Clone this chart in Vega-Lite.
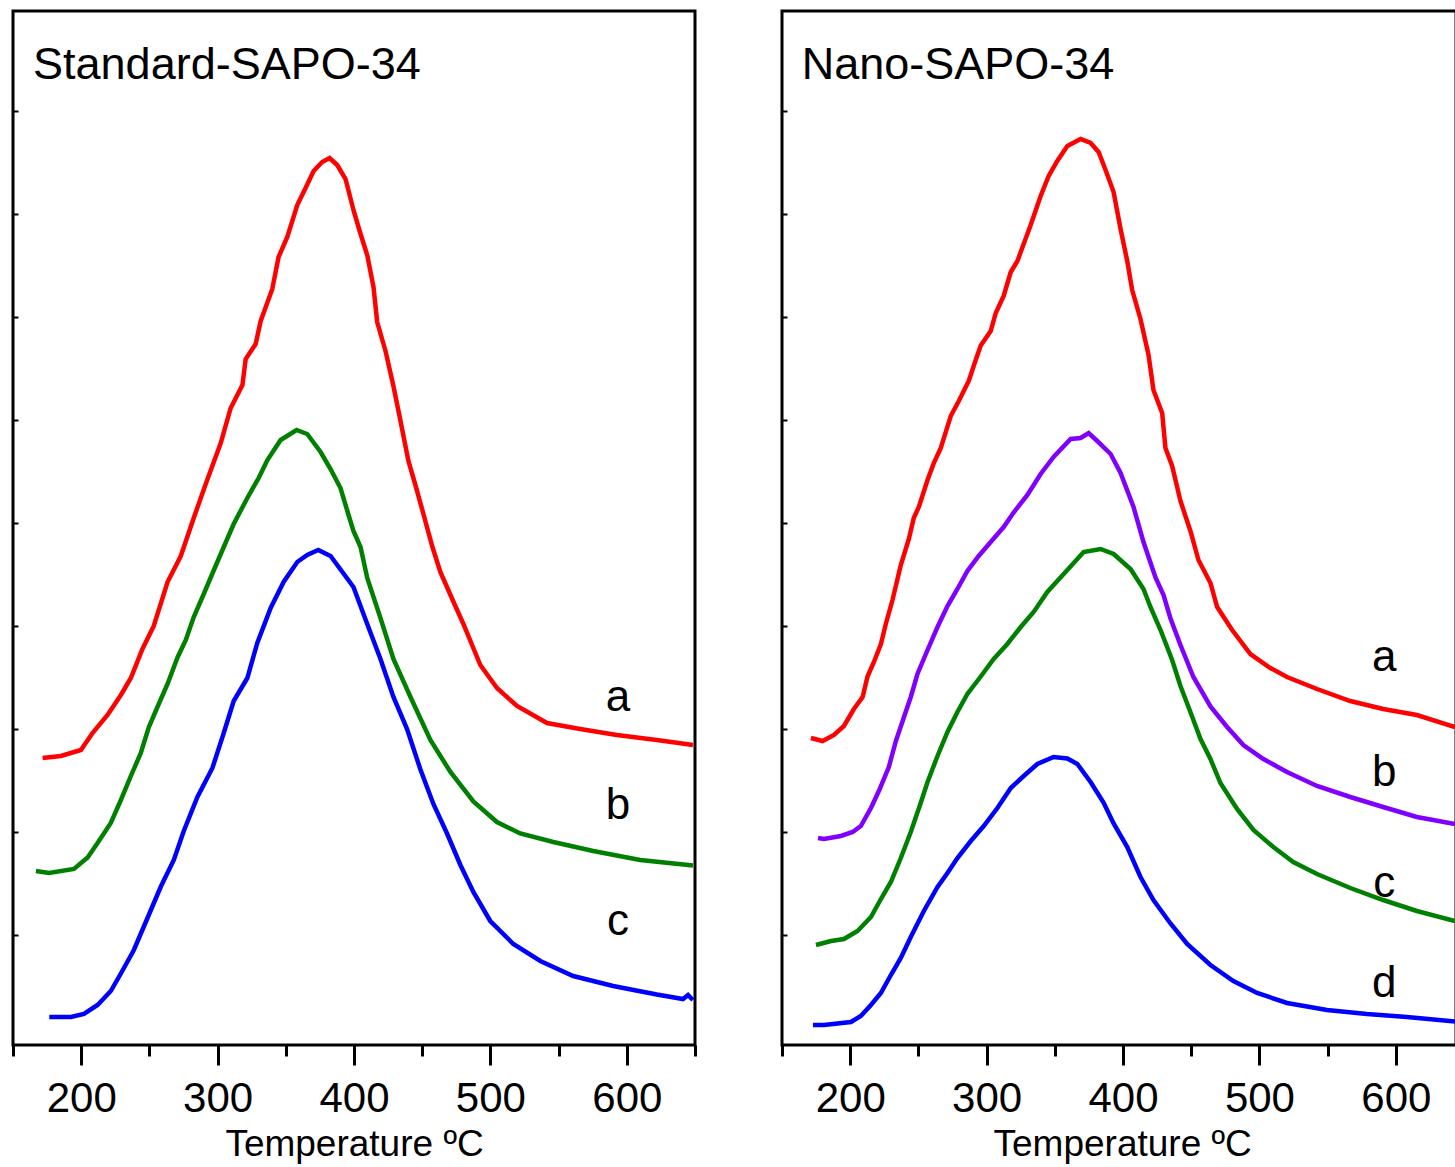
{
  "$schema": "https://vega.github.io/schema/vega-lite/v6.json",
  "background": "white",
  "padding": {"left": 10, "top": 9, "right": 0, "bottom": 0},
  "spacing": 75,
  "config": {
    "view": {"stroke": "black", "strokeWidth": 3},
    "font": "Liberation Sans"
  },
  "datasets": {
    "tpd": [
      {"panel":"S","curve":"a","temp":171.7,"signal":28.7},{"panel":"S","curve":"a","temp":185.1,"signal":28.9},{"panel":"S","curve":"a","temp":199.8,"signal":29.5},{"panel":"S","curve":"a","temp":208.3,"signal":31.2},{"panel":"S","curve":"a","temp":219.3,"signal":33.0},{"panel":"S","curve":"a","temp":229.1,"signal":35.0},{"panel":"S","curve":"a","temp":236.4,"signal":36.7},{"panel":"S","curve":"a","temp":244.9,"signal":39.6},{"panel":"S","curve":"a","temp":253.2,"signal":41.9},{"panel":"S","curve":"a","temp":263.3,"signal":46.3},{"panel":"S","curve":"a","temp":273.0,"signal":48.9},{"panel":"S","curve":"a","temp":282.5,"signal":52.7},{"panel":"S","curve":"a","temp":291.3,"signal":56.1},{"panel":"S","curve":"a","temp":302.3,"signal":60.2},{"panel":"S","curve":"a","temp":309.6,"signal":63.7},{"panel":"S","curve":"a","temp":318.2,"signal":66.0},{"panel":"S","curve":"a","temp":320.6,"signal":68.6},{"panel":"S","curve":"a","temp":327.9,"signal":70.1},{"panel":"S","curve":"a","temp":331.6,"signal":72.4},{"panel":"S","curve":"a","temp":340.1,"signal":75.6},{"panel":"S","curve":"a","temp":344.7,"signal":78.8},{"panel":"S","curve":"a","temp":351.1,"signal":80.8},{"panel":"S","curve":"a","temp":358.4,"signal":84.0},{"panel":"S","curve":"a","temp":364.5,"signal":85.7},{"panel":"S","curve":"a","temp":370.4,"signal":87.4},{"panel":"S","curve":"a","temp":376.7,"signal":88.3},{"panel":"S","curve":"a","temp":382.1,"signal":88.7},{"panel":"S","curve":"a","temp":387.7,"signal":88.0},{"panel":"S","curve":"a","temp":393.8,"signal":86.6},{"panel":"S","curve":"a","temp":399.6,"signal":83.5},{"panel":"S","curve":"a","temp":404.8,"signal":81.1},{"panel":"S","curve":"a","temp":409.7,"signal":79.0},{"panel":"S","curve":"a","temp":414.3,"signal":75.8},{"panel":"S","curve":"a","temp":417.0,"signal":72.3},{"panel":"S","curve":"a","temp":423.1,"signal":69.4},{"panel":"S","curve":"a","temp":428.9,"signal":65.9},{"panel":"S","curve":"a","temp":434.1,"signal":62.4},{"panel":"S","curve":"a","temp":439.9,"signal":58.4},{"panel":"S","curve":"a","temp":445.0,"signal":56.0},{"panel":"S","curve":"a","temp":450.9,"signal":53.1},{"panel":"S","curve":"a","temp":457.3,"signal":49.9},{"panel":"S","curve":"a","temp":463.3,"signal":47.3},{"panel":"S","curve":"a","temp":470.7,"signal":45.0},{"panel":"S","curve":"a","temp":480.2,"signal":42.1},{"panel":"S","curve":"a","temp":492.6,"signal":38.0},{"panel":"S","curve":"a","temp":504.8,"signal":35.7},{"panel":"S","curve":"a","temp":519.5,"signal":33.9},{"panel":"S","curve":"a","temp":541.5,"signal":32.2},{"panel":"S","curve":"a","temp":565.8,"signal":31.6},{"panel":"S","curve":"a","temp":592.7,"signal":31.0},{"panel":"S","curve":"a","temp":622.0,"signal":30.5},{"panel":"S","curve":"a","temp":648.5,"signal":30.0},
      {"panel":"S","curve":"b","temp":166.8,"signal":17.4},{"panel":"S","curve":"b","temp":176.4,"signal":17.2},{"panel":"S","curve":"b","temp":194.7,"signal":17.6},{"panel":"S","curve":"b","temp":204.7,"signal":18.75},{"panel":"S","curve":"b","temp":212.0,"signal":20.2},{"panel":"S","curve":"b","temp":221.7,"signal":22.2},{"panel":"S","curve":"b","temp":229.1,"signal":24.5},{"panel":"S","curve":"b","temp":236.4,"signal":26.9},{"panel":"S","curve":"b","temp":243.7,"signal":29.2},{"panel":"S","curve":"b","temp":249.6,"signal":31.8},{"panel":"S","curve":"b","temp":255.9,"signal":33.8},{"panel":"S","curve":"b","temp":263.3,"signal":36.1},{"panel":"S","curve":"b","temp":270.6,"signal":38.75},{"panel":"S","curve":"b","temp":276.7,"signal":40.5},{"panel":"S","curve":"b","temp":282.5,"signal":42.8},{"panel":"S","curve":"b","temp":288.9,"signal":44.8},{"panel":"S","curve":"b","temp":296.2,"signal":47.15},{"panel":"S","curve":"b","temp":304.5,"signal":49.8},{"panel":"S","curve":"b","temp":311.8,"signal":52.1},{"panel":"S","curve":"b","temp":321.8,"signal":54.7},{"panel":"S","curve":"b","temp":330.1,"signal":56.7},{"panel":"S","curve":"b","temp":336.5,"signal":58.5},{"panel":"S","curve":"b","temp":346.2,"signal":60.5},{"panel":"S","curve":"b","temp":357.9,"signal":61.5},{"panel":"S","curve":"b","temp":365.7,"signal":61.1},{"panel":"S","curve":"b","temp":375.5,"signal":59.3},{"panel":"S","curve":"b","temp":382.8,"signal":57.6},{"panel":"S","curve":"b","temp":390.1,"signal":55.7},{"panel":"S","curve":"b","temp":396.0,"signal":53.0},{"panel":"S","curve":"b","temp":399.6,"signal":51.4},{"panel":"S","curve":"b","temp":404.8,"signal":49.8},{"panel":"S","curve":"b","temp":409.7,"signal":46.7},{"panel":"S","curve":"b","temp":419.4,"signal":42.7},{"panel":"S","curve":"b","temp":428.9,"signal":38.6},{"panel":"S","curve":"b","temp":441.4,"signal":34.8},{"panel":"S","curve":"b","temp":456.0,"signal":30.5},{"panel":"S","curve":"b","temp":470.7,"signal":27.3},{"panel":"S","curve":"b","temp":487.5,"signal":24.35},{"panel":"S","curve":"b","temp":504.8,"signal":22.3},{"panel":"S","curve":"b","temp":521.9,"signal":21.15},{"panel":"S","curve":"b","temp":546.1,"signal":20.3},{"panel":"S","curve":"b","temp":575.4,"signal":19.4},{"panel":"S","curve":"b","temp":609.8,"signal":18.5},{"panel":"S","curve":"b","temp":648.5,"signal":17.95},
      {"panel":"S","curve":"c","temp":176.6,"signal":2.8},{"panel":"S","curve":"c","temp":192.5,"signal":2.8},{"panel":"S","curve":"c","temp":202.0,"signal":3.1},{"panel":"S","curve":"c","temp":212.0,"signal":4.0},{"panel":"S","curve":"c","temp":221.7,"signal":5.4},{"panel":"S","curve":"c","temp":229.1,"signal":7.15},{"panel":"S","curve":"c","temp":238.6,"signal":9.5},{"panel":"S","curve":"c","temp":248.6,"signal":12.7},{"panel":"S","curve":"c","temp":258.4,"signal":15.85},{"panel":"S","curve":"c","temp":267.9,"signal":18.5},{"panel":"S","curve":"c","temp":275.2,"signal":21.4},{"panel":"S","curve":"c","temp":285.2,"signal":24.8},{"panel":"S","curve":"c","temp":296.2,"signal":27.7},{"panel":"S","curve":"c","temp":304.5,"signal":31.2},{"panel":"S","curve":"c","temp":311.8,"signal":34.4},{"panel":"S","curve":"c","temp":321.8,"signal":36.7},{"panel":"S","curve":"c","temp":329.1,"signal":40.2},{"panel":"S","curve":"c","temp":338.9,"signal":43.7},{"panel":"S","curve":"c","temp":348.4,"signal":46.3},{"panel":"S","curve":"c","temp":358.4,"signal":48.3},{"panel":"S","curve":"c","temp":365.7,"signal":49.0},{"panel":"S","curve":"c","temp":373.8,"signal":49.5},{"panel":"S","curve":"c","temp":382.8,"signal":48.9},{"panel":"S","curve":"c","temp":392.3,"signal":47.15},{"panel":"S","curve":"c","temp":399.6,"signal":45.8},{"panel":"S","curve":"c","temp":409.7,"signal":42.1},{"panel":"S","curve":"c","temp":419.4,"signal":38.6},{"panel":"S","curve":"c","temp":428.9,"signal":34.8},{"panel":"S","curve":"c","temp":438.9,"signal":31.6},{"panel":"S","curve":"c","temp":448.7,"signal":27.55},{"panel":"S","curve":"c","temp":458.2,"signal":24.1},{"panel":"S","curve":"c","temp":468.2,"signal":21.15},{"panel":"S","curve":"c","temp":478.0,"signal":18.0},{"panel":"S","curve":"c","temp":487.5,"signal":15.3},{"panel":"S","curve":"c","temp":499.9,"signal":12.4},{"panel":"S","curve":"c","temp":516.8,"signal":10.1},{"panel":"S","curve":"c","temp":536.6,"signal":8.4},{"panel":"S","curve":"c","temp":560.7,"signal":6.9},{"panel":"S","curve":"c","temp":590.0,"signal":5.9},{"panel":"S","curve":"c","temp":622.0,"signal":5.05},{"panel":"S","curve":"c","temp":641.2,"signal":4.6},{"panel":"S","curve":"c","temp":644.9,"signal":5.0},{"panel":"S","curve":"c","temp":648.5,"signal":4.5},
      {"panel":"N","curve":"a","temp":171.2,"signal":30.7},{"panel":"N","curve":"a","temp":179.8,"signal":30.4},{"panel":"N","curve":"a","temp":188.1,"signal":31.0},{"panel":"N","curve":"a","temp":195.4,"signal":31.9},{"panel":"N","curve":"a","temp":202.7,"signal":33.6},{"panel":"N","curve":"a","temp":209.1,"signal":34.8},{"panel":"N","curve":"a","temp":212.7,"signal":36.85},{"panel":"N","curve":"a","temp":217.4,"signal":38.3},{"panel":"N","curve":"a","temp":222.5,"signal":40.1},{"panel":"N","curve":"a","temp":226.1,"signal":42.1},{"panel":"N","curve":"a","temp":231.0,"signal":44.5},{"panel":"N","curve":"a","temp":237.1,"signal":48.0},{"panel":"N","curve":"a","temp":243.0,"signal":50.6},{"panel":"N","curve":"a","temp":246.6,"signal":52.7},{"panel":"N","curve":"a","temp":250.3,"signal":53.8},{"panel":"N","curve":"a","temp":256.7,"signal":56.5},{"panel":"N","curve":"a","temp":261.3,"signal":58.2},{"panel":"N","curve":"a","temp":266.4,"signal":59.7},{"panel":"N","curve":"a","temp":273.7,"signal":62.9},{"panel":"N","curve":"a","temp":279.6,"signal":64.4},{"panel":"N","curve":"a","temp":286.9,"signal":66.4},{"panel":"N","curve":"a","temp":292.0,"signal":68.5},{"panel":"N","curve":"a","temp":295.7,"signal":69.95},{"panel":"N","curve":"a","temp":303.0,"signal":71.4},{"panel":"N","curve":"a","temp":306.7,"signal":73.2},{"panel":"N","curve":"a","temp":312.5,"signal":74.9},{"panel":"N","curve":"a","temp":317.7,"signal":77.3},{"panel":"N","curve":"a","temp":322.6,"signal":78.4},{"panel":"N","curve":"a","temp":325.0,"signal":79.3},{"panel":"N","curve":"a","temp":332.3,"signal":82.0},{"panel":"N","curve":"a","temp":339.6,"signal":84.9},{"panel":"N","curve":"a","temp":345.5,"signal":86.9},{"panel":"N","curve":"a","temp":351.8,"signal":88.4},{"panel":"N","curve":"a","temp":359.2,"signal":89.9},{"panel":"N","curve":"a","temp":368.9,"signal":90.6},{"panel":"N","curve":"a","temp":376.2,"signal":90.2},{"panel":"N","curve":"a","temp":382.1,"signal":89.3},{"panel":"N","curve":"a","temp":387.2,"signal":87.5},{"panel":"N","curve":"a","temp":393.1,"signal":85.3},{"panel":"N","curve":"a","temp":398.2,"signal":81.6},{"panel":"N","curve":"a","temp":403.1,"signal":78.4},{"panel":"N","curve":"a","temp":406.7,"signal":75.5},{"panel":"N","curve":"a","temp":412.8,"signal":72.6},{"panel":"N","curve":"a","temp":418.7,"signal":69.0},{"panel":"N","curve":"a","temp":422.3,"signal":65.5},{"panel":"N","curve":"a","temp":428.7,"signal":63.2},{"panel":"N","curve":"a","temp":431.1,"signal":59.7},{"panel":"N","curve":"a","temp":436.0,"signal":57.9},{"panel":"N","curve":"a","temp":442.1,"signal":54.4},{"panel":"N","curve":"a","temp":449.4,"signal":51.4},{"panel":"N","curve":"a","temp":455.3,"signal":48.5},{"panel":"N","curve":"a","temp":464.1,"signal":46.2},{"panel":"N","curve":"a","temp":469.0,"signal":43.8},{"panel":"N","curve":"a","temp":480.0,"signal":41.5},{"panel":"N","curve":"a","temp":493.4,"signal":39.1},{"panel":"N","curve":"a","temp":508.0,"signal":37.7},{"panel":"N","curve":"a","temp":520.2,"signal":36.8},{"panel":"N","curve":"a","temp":542.2,"signal":35.6},{"panel":"N","curve":"a","temp":566.6,"signal":34.4},{"panel":"N","curve":"a","temp":590.7,"signal":33.6},{"panel":"N","curve":"a","temp":615.4,"signal":33.0},{"panel":"N","curve":"a","temp":643.4,"signal":31.8},
      {"panel":"N","curve":"b","temp":176.4,"signal":20.7},{"panel":"N","curve":"b","temp":180.7,"signal":20.6},{"panel":"N","curve":"b","temp":193.2,"signal":20.9},{"panel":"N","curve":"b","temp":201.8,"signal":21.3},{"panel":"N","curve":"b","temp":207.8,"signal":21.9},{"panel":"N","curve":"b","temp":215.2,"signal":23.7},{"panel":"N","curve":"b","temp":221.0,"signal":25.4},{"panel":"N","curve":"b","temp":228.3,"signal":27.8},{"panel":"N","curve":"b","temp":233.5,"signal":30.4},{"panel":"N","curve":"b","temp":239.3,"signal":32.75},{"panel":"N","curve":"b","temp":244.4,"signal":34.8},{"panel":"N","curve":"b","temp":249.3,"signal":37.1},{"panel":"N","curve":"b","temp":256.7,"signal":39.5},{"panel":"N","curve":"b","temp":264.0,"signal":41.8},{"panel":"N","curve":"b","temp":271.3,"signal":43.9},{"panel":"N","curve":"b","temp":278.6,"signal":45.6},{"panel":"N","curve":"b","temp":285.9,"signal":47.4},{"panel":"N","curve":"b","temp":294.2,"signal":48.9},{"panel":"N","curve":"b","temp":303.0,"signal":50.3},{"panel":"N","curve":"b","temp":312.5,"signal":51.8},{"panel":"N","curve":"b","temp":319.8,"signal":53.25},{"panel":"N","curve":"b","temp":329.9,"signal":55.0},{"panel":"N","curve":"b","temp":339.6,"signal":57.1},{"panel":"N","curve":"b","temp":349.1,"signal":58.8},{"panel":"N","curve":"b","temp":361.6,"signal":60.6},{"panel":"N","curve":"b","temp":368.9,"signal":60.7},{"panel":"N","curve":"b","temp":374.8,"signal":61.2},{"panel":"N","curve":"b","temp":381.1,"signal":60.4},{"panel":"N","curve":"b","temp":390.9,"signal":59.1},{"panel":"N","curve":"b","temp":398.2,"signal":57.2},{"panel":"N","curve":"b","temp":407.7,"signal":53.8},{"panel":"N","curve":"b","temp":415.0,"signal":50.3},{"panel":"N","curve":"b","temp":423.8,"signal":46.75},{"panel":"N","curve":"b","temp":429.7,"signal":45.0},{"panel":"N","curve":"b","temp":434.8,"signal":42.65},{"panel":"N","curve":"b","temp":442.1,"signal":40.0},{"panel":"N","curve":"b","temp":451.6,"signal":36.8},{"panel":"N","curve":"b","temp":464.1,"signal":33.85},{"panel":"N","curve":"b","temp":476.3,"signal":31.8},{"panel":"N","curve":"b","temp":488.2,"signal":30.0},{"panel":"N","curve":"b","temp":502.9,"signal":28.6},{"panel":"N","curve":"b","temp":520.2,"signal":27.3},{"panel":"N","curve":"b","temp":542.2,"signal":25.9},{"panel":"N","curve":"b","temp":566.6,"signal":24.8},{"panel":"N","curve":"b","temp":590.7,"signal":23.8},{"panel":"N","curve":"b","temp":615.4,"signal":22.8},{"panel":"N","curve":"b","temp":643.4,"signal":22.1},
      {"panel":"N","curve":"c","temp":174.9,"signal":10.0},{"panel":"N","curve":"c","temp":185.9,"signal":10.4},{"panel":"N","curve":"c","temp":195.4,"signal":10.6},{"panel":"N","curve":"c","temp":205.4,"signal":11.4},{"panel":"N","curve":"c","temp":215.2,"signal":12.8},{"panel":"N","curve":"c","temp":222.5,"signal":14.6},{"panel":"N","curve":"c","temp":229.8,"signal":16.3},{"panel":"N","curve":"c","temp":237.1,"signal":18.7},{"panel":"N","curve":"c","temp":244.4,"signal":21.3},{"panel":"N","curve":"c","temp":251.8,"signal":24.25},{"panel":"N","curve":"c","temp":256.7,"signal":26.3},{"panel":"N","curve":"c","temp":264.0,"signal":28.9},{"panel":"N","curve":"c","temp":271.3,"signal":31.3},{"panel":"N","curve":"c","temp":278.6,"signal":33.3},{"panel":"N","curve":"c","temp":285.9,"signal":35.1},{"panel":"N","curve":"c","temp":295.7,"signal":36.85},{"panel":"N","curve":"c","temp":305.2,"signal":38.6},{"panel":"N","curve":"c","temp":315.2,"signal":40.1},{"panel":"N","curve":"c","temp":325.0,"signal":41.8},{"panel":"N","curve":"c","temp":334.5,"signal":43.3},{"panel":"N","curve":"c","temp":344.5,"signal":45.3},{"panel":"N","curve":"c","temp":356.5,"signal":47.1},{"panel":"N","curve":"c","temp":366.5,"signal":48.6},{"panel":"N","curve":"c","temp":371.1,"signal":49.3},{"panel":"N","curve":"c","temp":383.5,"signal":49.6},{"panel":"N","curve":"c","temp":393.1,"signal":49.1},{"panel":"N","curve":"c","temp":405.5,"signal":47.6},{"panel":"N","curve":"c","temp":415.0,"signal":45.6},{"panel":"N","curve":"c","temp":420.1,"signal":43.8},{"panel":"N","curve":"c","temp":427.5,"signal":41.5},{"panel":"N","curve":"c","temp":436.0,"signal":38.5},{"panel":"N","curve":"c","temp":442.1,"signal":35.9},{"panel":"N","curve":"c","temp":449.4,"signal":33.3},{"panel":"N","curve":"c","temp":456.8,"signal":30.6},{"panel":"N","curve":"c","temp":464.1,"signal":28.6},{"panel":"N","curve":"c","temp":471.4,"signal":26.2},{"panel":"N","curve":"c","temp":483.6,"signal":23.6},{"panel":"N","curve":"c","temp":495.6,"signal":21.5},{"panel":"N","curve":"c","temp":510.2,"signal":19.8},{"panel":"N","curve":"c","temp":524.8,"signal":18.3},{"panel":"N","curve":"c","temp":542.2,"signal":17.1},{"panel":"N","curve":"c","temp":566.6,"signal":15.7},{"panel":"N","curve":"c","temp":590.7,"signal":14.5},{"panel":"N","curve":"c","temp":615.4,"signal":13.4},{"panel":"N","curve":"c","temp":643.4,"signal":12.4},
      {"panel":"N","curve":"d","temp":172.7,"signal":2.0},{"panel":"N","curve":"d","temp":180.7,"signal":2.0},{"panel":"N","curve":"d","temp":200.5,"signal":2.3},{"panel":"N","curve":"d","temp":207.8,"signal":2.9},{"panel":"N","curve":"d","temp":215.2,"signal":4.0},{"panel":"N","curve":"d","temp":222.5,"signal":5.2},{"panel":"N","curve":"d","temp":229.8,"signal":7.0},{"panel":"N","curve":"d","temp":237.1,"signal":8.7},{"panel":"N","curve":"d","temp":244.4,"signal":10.8},{"panel":"N","curve":"d","temp":254.0,"signal":13.4},{"panel":"N","curve":"d","temp":264.0,"signal":15.8},{"panel":"N","curve":"d","temp":271.3,"signal":17.2},{"panel":"N","curve":"d","temp":278.6,"signal":18.7},{"panel":"N","curve":"d","temp":288.4,"signal":20.4},{"panel":"N","curve":"d","temp":297.9,"signal":21.9},{"panel":"N","curve":"d","temp":307.9,"signal":23.7},{"panel":"N","curve":"d","temp":317.7,"signal":25.7},{"panel":"N","curve":"d","temp":327.2,"signal":26.9},{"panel":"N","curve":"d","temp":337.2,"signal":28.1},{"panel":"N","curve":"d","temp":349.1,"signal":28.8},{"panel":"N","curve":"d","temp":359.2,"signal":28.65},{"panel":"N","curve":"d","temp":366.5,"signal":28.1},{"panel":"N","curve":"d","temp":376.2,"signal":26.3},{"panel":"N","curve":"d","temp":385.7,"signal":24.25},{"panel":"N","curve":"d","temp":393.1,"signal":22.15},{"panel":"N","curve":"d","temp":403.1,"signal":19.8},{"panel":"N","curve":"d","temp":412.8,"signal":16.8},{"panel":"N","curve":"d","temp":422.3,"signal":14.5},{"panel":"N","curve":"d","temp":434.8,"signal":12.15},{"panel":"N","curve":"d","temp":447.0,"signal":10.1},{"panel":"N","curve":"d","temp":464.1,"signal":8.0},{"panel":"N","curve":"d","temp":480.9,"signal":6.4},{"panel":"N","curve":"d","temp":498.3,"signal":5.2},{"panel":"N","curve":"d","temp":520.2,"signal":4.2},{"panel":"N","curve":"d","temp":549.5,"signal":3.5},{"panel":"N","curve":"d","temp":578.8,"signal":3.1},{"panel":"N","curve":"d","temp":608.1,"signal":2.8},{"panel":"N","curve":"d","temp":643.4,"signal":2.35}
    ],
    "labels": [
      {"panel":"S","curve":"a","temp":593.6,"signal":33.4},
      {"panel":"S","curve":"b","temp":593.6,"signal":22.6},
      {"panel":"S","curve":"c","temp":593.6,"signal":11.0},
      {"panel":"N","curve":"a","temp":591.5,"signal":37.4},
      {"panel":"N","curve":"b","temp":591.5,"signal":25.9},
      {"panel":"N","curve":"c","temp":591.5,"signal":14.8},
      {"panel":"N","curve":"d","temp":591.5,"signal":4.8}
    ],
    "titles": [
      {"panel":"S","name":"Standard-SAPO-34","temp":164.7,"signal":96.6},
      {"panel":"N","name":"Nano-SAPO-34","temp":164.4,"signal":96.6}
    ]
  },
  "hconcat": [
    {
      "width": 682,
      "height": 1034,
      "layer": [
        {
          "data": {"name": "tpd"},
          "transform": [{"filter": "datum.panel === 'S'"}],
          "mark": {"type": "line", "strokeWidth": 4.5, "interpolate": "linear"},
          "encoding": {
            "x": {"field": "temp", "type": "quantitative", "scale": {"domain": [150, 650], "nice": false, "zero": false},
              "axis": {"values": [150,200,250,300,350,400,450,500,550,600,650], "domain": false, "grid": false,
                "tickSize": {"condition": {"test": "datum.value % 100 === 0", "value": 20}, "value": 11},
                "tickWidth": 3, "tickColor": "black",
                "labelExpr": "datum.value % 100 === 0 ? datum.label : ''",
                "labelFontSize": 42, "labelFont": "Liberation Sans", "labelColor": "black", "labelPadding": 13, "labelOverlap": false, "labelFlush": false,
                "title": "Temperature ºC", "titleFontSize": 37, "titleFont": "Liberation Sans", "titleFontWeight": "normal", "titleColor": "black", "titlePadding": 7}},
            "y": {"field": "signal", "type": "quantitative", "scale": {"domain": [0, 103.4], "nice": false, "zero": false},
              "axis": {"values": [11, 21.3, 31.6, 41.9, 52.2, 62.5, 72.8, 83.1, 93.4], "labels": false, "domain": false, "grid": false, "tickSize": -5, "tickWidth": 2, "tickColor": "black", "title": null}},
            "color": {"field": "curve", "type": "nominal", "scale": {"domain": ["a", "b", "c"], "range": ["#ff0000", "#008000", "#0000ff"]}, "legend": null}
          }
        },
        {
          "data": {"name": "labels"},
          "transform": [{"filter": "datum.panel === 'S'"}],
          "mark": {"type": "text", "fontSize": 44, "font": "Liberation Sans", "align": "center", "baseline": "alphabetic", "color": "black"},
          "encoding": {
            "x": {"field": "temp", "type": "quantitative"},
            "y": {"field": "signal", "type": "quantitative"},
            "text": {"field": "curve"}
          }
        },
        {
          "data": {"name": "titles"},
          "transform": [{"filter": "datum.panel === 'S'"}],
          "mark": {"type": "text", "fontSize": 45, "font": "Liberation Sans", "align": "left", "baseline": "alphabetic", "color": "black"},
          "encoding": {
            "x": {"field": "temp", "type": "quantitative"},
            "y": {"field": "signal", "type": "quantitative"},
            "text": {"field": "name"}
          }
        }
      ]
    },
    {
      "width": 674,
      "height": 1034,
      "layer": [
        {
          "data": {"name": "tpd"},
          "transform": [{"filter": "datum.panel === 'N'"}],
          "mark": {"type": "line", "strokeWidth": 4.5, "interpolate": "linear"},
          "encoding": {
            "x": {"field": "temp", "type": "quantitative", "scale": {"domain": [150, 644.1], "nice": false, "zero": false},
              "axis": {"values": [150,200,250,300,350,400,450,500,550,600], "domain": false, "grid": false,
                "tickSize": {"condition": {"test": "datum.value % 100 === 0", "value": 20}, "value": 11},
                "tickWidth": 3, "tickColor": "black",
                "labelExpr": "datum.value % 100 === 0 ? datum.label : ''",
                "labelFontSize": 42, "labelFont": "Liberation Sans", "labelColor": "black", "labelPadding": 13, "labelOverlap": false, "labelFlush": false,
                "title": "Temperature ºC", "titleFontSize": 37, "titleFont": "Liberation Sans", "titleFontWeight": "normal", "titleColor": "black", "titlePadding": 7, "titleAnchor": "start", "titleX": 211}},
            "y": {"field": "signal", "type": "quantitative", "scale": {"domain": [0, 103.4], "nice": false, "zero": false},
              "axis": {"values": [11, 21.3, 31.6, 41.9, 52.2, 62.5, 72.8, 83.1, 93.4], "labels": false, "domain": false, "grid": false, "tickSize": -5, "tickWidth": 2, "tickColor": "black", "title": null}},
            "color": {"field": "curve", "type": "nominal", "scale": {"domain": ["a", "b", "c", "d"], "range": ["#ff0000", "#8000ff", "#008000", "#0000ff"]}, "legend": null}
          }
        },
        {
          "data": {"name": "labels"},
          "transform": [{"filter": "datum.panel === 'N'"}],
          "mark": {"type": "text", "fontSize": 44, "font": "Liberation Sans", "align": "center", "baseline": "alphabetic", "color": "black"},
          "encoding": {
            "x": {"field": "temp", "type": "quantitative"},
            "y": {"field": "signal", "type": "quantitative"},
            "text": {"field": "curve"}
          }
        },
        {
          "data": {"name": "titles"},
          "transform": [{"filter": "datum.panel === 'N'"}],
          "mark": {"type": "text", "fontSize": 45, "font": "Liberation Sans", "align": "left", "baseline": "alphabetic", "color": "black"},
          "encoding": {
            "x": {"field": "temp", "type": "quantitative"},
            "y": {"field": "signal", "type": "quantitative"},
            "text": {"field": "name"}
          }
        }
      ]
    }
  ],
  "resolve": {"scale": {"color": "independent", "x": "independent", "y": "independent"}}
}
